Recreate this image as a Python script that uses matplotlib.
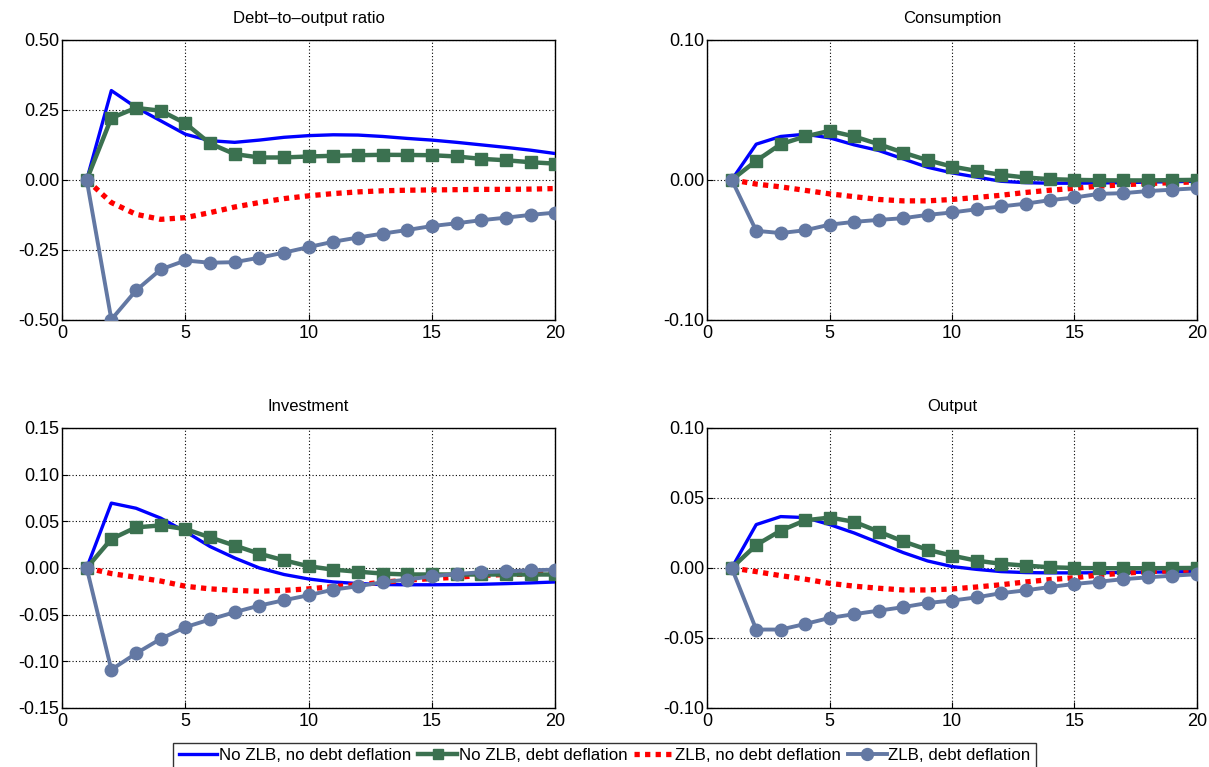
import numpy as np
import matplotlib
matplotlib.use("Agg")
from matplotlib import pyplot as plt

periods = list(range(1, 21))

# Debt-to-output ratio
debt_nozlb_nodd = [0, 0.319, 0.259, 0.211, 0.163, 0.140, 0.134, 0.142, 0.152, 0.158,
                   0.161, 0.160, 0.155, 0.148, 0.142, 0.134, 0.125, 0.116, 0.106, 0.094]
debt_nozlb_dd = [0, 0.221, 0.257, 0.247, 0.202, 0.130, 0.092, 0.080, 0.080, 0.0835,
                 0.086, 0.088, 0.0895, 0.089, 0.088, 0.0835, 0.075, 0.070, 0.063, 0.058]
debt_zlb_nodd = [0, -0.081, -0.123, -0.141, -0.135, -0.117, -0.097, -0.081, -0.067, -0.057,
                 -0.049, -0.043, -0.039, -0.037, -0.036, -0.035, -0.034, -0.034, -0.033, -0.031]
debt_zlb_dd = [0, -0.499, -0.395, -0.320, -0.288, -0.296, -0.294, -0.278, -0.260, -0.240,
               -0.221, -0.206, -0.192, -0.179, -0.165, -0.155, -0.144, -0.135, -0.125, -0.117]

# Consumption
cons_nozlb_nodd = [0, 0.0255, 0.031, 0.0326, 0.030, 0.025, 0.021, 0.015, 0.009, 0.005,
                   0.002, -0.001, -0.002, -0.0024, -0.0024, -0.0022, -0.002, -0.0016, -0.0013, -0.001]
cons_nozlb_dd = [0, 0.0136, 0.0255, 0.031, 0.035, 0.031, 0.0255, 0.0195, 0.014, 0.0095,
                 0.0064, 0.0036, 0.0017, 0.0005, 0.0, -0.0003, -0.0004, -0.0004, -0.0002, 0.0]
cons_zlb_nodd = [0, -0.003, -0.005, -0.0075, -0.010, -0.012, -0.014, -0.015, -0.015, -0.014,
                 -0.0126, -0.011, -0.009, -0.0074, -0.006, -0.0045, -0.0035, -0.0026, -0.002, -0.0014]
cons_zlb_dd = [0, -0.0364, -0.038, -0.036, -0.032, -0.030, -0.0286, -0.0274, -0.025, -0.0233,
               -0.021, -0.019, -0.017, -0.0145, -0.0126, -0.010, -0.0095, -0.008, -0.007, -0.006]

# Investment
inv_nozlb_nodd = [0, 0.0695, 0.064, 0.0534, 0.039, 0.023, 0.0107, 0.0, -0.007, -0.0118,
                  -0.015, -0.0167, -0.0178, -0.018, -0.018, -0.0178, -0.0175, -0.0168, -0.016, -0.015]
inv_nozlb_dd = [0, 0.031, 0.0435, 0.0456, 0.0417, 0.0328, 0.024, 0.0153, 0.0082, 0.0018,
                -0.0018, -0.004, -0.006, -0.007, -0.007, -0.007, -0.007, -0.007, -0.007, -0.007]
inv_zlb_nodd = [0, -0.006, -0.010, -0.014, -0.0196, -0.0224, -0.024, -0.025, -0.024, -0.0224,
                -0.020, -0.018, -0.0153, -0.013, -0.0114, -0.010, -0.008, -0.007, -0.0064, -0.005]
inv_zlb_dd = [0, -0.109, -0.0916, -0.076, -0.0634, -0.0552, -0.0474, -0.0403, -0.0346, -0.0292,
              -0.0232, -0.0196, -0.0153, -0.0125, -0.0089, -0.0064, -0.0046, -0.0036, -0.0025, -0.0018]

# Output
out_nozlb_nodd = [0, 0.031, 0.0367, 0.036, 0.031, 0.025, 0.018, 0.011, 0.005, 0.001,
                  -0.001, -0.0026, -0.0033, -0.0035, -0.0035, -0.0034, -0.0032, -0.003, -0.0028, -0.0025]
out_nozlb_dd = [0, 0.0164, 0.0267, 0.034, 0.036, 0.033, 0.026, 0.019, 0.013, 0.0088,
                0.0052, 0.003, 0.0017, 0.0005, 0.0, -0.0002, -0.0002, -0.0002, -0.0001, 0.0]
out_zlb_nodd = [0, -0.0026, -0.0055, -0.008, -0.011, -0.013, -0.0145, -0.0157, -0.0157, -0.015,
                -0.0136, -0.012, -0.010, -0.0083, -0.007, -0.005, -0.0038, -0.0026, -0.002, -0.0012]
out_zlb_dd = [0, -0.044, -0.044, -0.040, -0.0357, -0.033, -0.0305, -0.028, -0.025, -0.0233,
              -0.021, -0.018, -0.016, -0.0136, -0.0114, -0.0098, -0.008, -0.0067, -0.0055, -0.0045]

titles = ["Debt\u2013to\u2013output ratio", "Consumption", "Investment", "Output"]
panels = [
    (debt_nozlb_nodd, debt_nozlb_dd, debt_zlb_nodd, debt_zlb_dd),
    (cons_nozlb_nodd, cons_nozlb_dd, cons_zlb_nodd, cons_zlb_dd),
    (inv_nozlb_nodd, inv_nozlb_dd, inv_zlb_nodd, inv_zlb_dd),
    (out_nozlb_nodd, out_nozlb_dd, out_zlb_nodd, out_zlb_dd),
]
yticks = [
    [-0.5, -0.25, 0, 0.25, 0.5],
    [-0.1, 0, 0.1],
    [-0.15, -0.1, -0.05, 0, 0.05, 0.1, 0.15],
    [-0.1, -0.05, 0, 0.05, 0.1],
]
legend_labels = ["No ZLB, no debt deflation", "No ZLB, debt deflation",
                 "ZLB, no debt deflation", "ZLB, debt deflation"]

plt.rcParams['font.family'] = ['Liberation Sans', 'DejaVu Sans']

fig = plt.figure(figsize=(12.09, 7.67), dpi=100)
boxes = [
    [0.0513, 0.583, 0.408, 0.365],
    [0.585, 0.583, 0.405, 0.365],
    [0.0513, 0.077, 0.408, 0.365],
    [0.585, 0.077, 0.405, 0.365],
]

handles = []
for i, (box, title, series, yt) in enumerate(zip(boxes, titles, panels, yticks)):
    ax = fig.add_axes(box)
    a, b, c, d = series
    h1, = ax.plot(periods, a, color='#0000ff', lw=2.4, zorder=3)
    h2, = ax.plot(periods, b, color='#3b7150', lw=3.2, marker='s', ms=8, zorder=4)
    h3, = ax.plot(periods, c, color='#ff0000', lw=3.8, ls=(0, (1, 1)), zorder=3)
    h4, = ax.plot(periods, d, color='#6378a3', lw=2.8, marker='o', ms=9, zorder=5)
    handles = [h1, h2, h3, h4]

    ax.set_xlim(0, 20)
    ax.set_ylim(yt[0], yt[-1])
    ax.set_xticks([0, 5, 10, 15, 20])
    ax.set_yticks(yt)
    ax.yaxis.set_major_formatter(matplotlib.ticker.FormatStrFormatter('%.2f'))
    ax.grid(True, color='black', ls=(0, (1, 2)), lw=0.8)
    ax.tick_params(direction='in', labelsize=13, length=4)
    ax.tick_params(axis='x', pad=4)
    ax.tick_params(axis='y', pad=2)
    ax.set_title(title, fontsize=12, pad=12)
    for s in ax.spines.values():
        s.set_linewidth(1.0)

fig.legend(handles, legend_labels, loc='lower center', bbox_to_anchor=(0.5, -0.012),
           ncol=4, fontsize=12.2, frameon=True, fancybox=False, edgecolor='black',
           handlelength=2.3, handletextpad=0.1, columnspacing=0.4, borderpad=0.3,
           markerscale=0.95)

fig.savefig('out.png', dpi=100)
